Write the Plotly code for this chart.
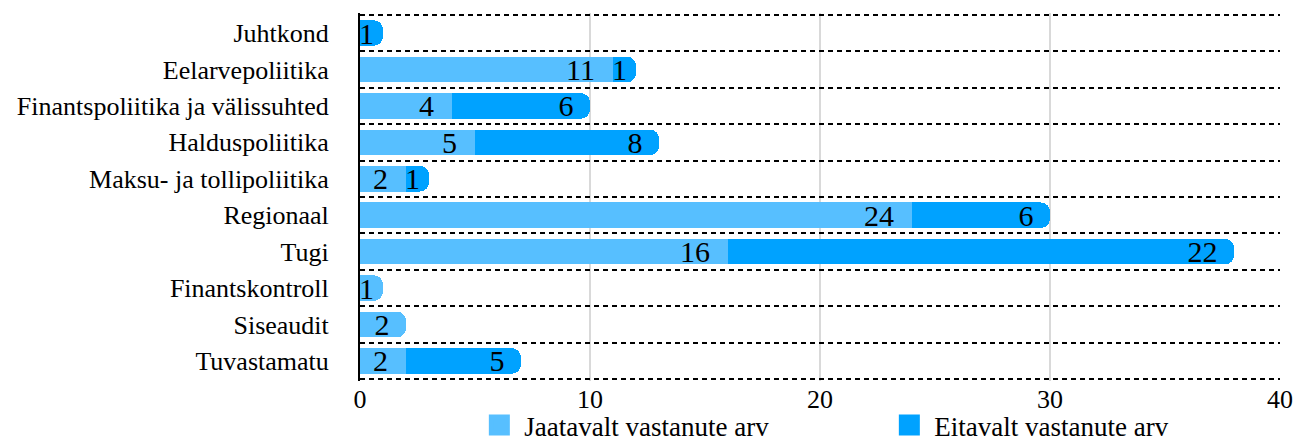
import plotly.graph_objects as go

# Departments (top to bottom) and answer counts
categories = [
    "Juhtkond",
    "Eelarvepoliitika",
    "Finantspoliitika ja välissuhted",
    "Halduspoliitika",
    "Maksu- ja tollipoliitika",
    "Regionaal",
    "Tugi",
    "Finantskontroll",
    "Siseaudit",
    "Tuvastamatu",
]
jaatavalt = [None, 11, 4, 5, 2, 24, 16, 1, 2, 2]
eitavalt = [1, 1, 6, 8, 1, 6, 22, None, None, 5]

series_names = ["Jaatavalt vastanute arv", "Eitavalt vastanute arv"]
series_colors = ["#57BFFF", "#00A2FF"]

x_ticks = [0, 10, 20, 30, 40]

FONT = "Liberation Serif, Times New Roman, serif"
NBSP = "\u00a0"


def bar_labels(values, outer_flags):
    # numbers sit near the end of each segment; rounded (outer) ends already
    # pad the text, and one-unit segments get no extra padding
    out = []
    for v, outer in zip(values, outer_flags):
        if v is None:
            out.append("")
        elif v < 2:
            out.append(f"{v}")
        else:
            out.append(f"{v}" + NBSP * (1 if outer else 2))
    return out


outer_jaatavalt = [e is None for e in eitavalt]
outer_eitavalt = [True] * len(eitavalt)

fig = go.Figure()
for name, vals, outer, color in zip(
    series_names, [jaatavalt, eitavalt], [outer_jaatavalt, outer_eitavalt], series_colors
):
    fig.add_trace(
        go.Bar(
            y=categories,
            x=vals,
            orientation="h",
            name=name,
            marker=dict(color=color, line=dict(width=0)),
            text=bar_labels(vals, outer),
            textposition="inside",
            insidetextanchor="end",
            textangle=0,
            constraintext="none",
            insidetextfont=dict(family=FONT, size=30, color="black"),
            showlegend=False,
            hoverinfo="skip",
        )
    )
    # legend entries with larger square swatches
    fig.add_trace(
        go.Scatter(
            x=[None],
            y=[None],
            mode="markers",
            name=name,
            marker=dict(symbol="square", size=16, color=color,
                        line=dict(color=color, width=5)),
            showlegend=True,
        )
    )

n = len(categories)
fig.update_layout(
    width=1296,
    height=441,
    barmode="stack",
    bargap=0.3,
    barcornerradius=9,
    uniformtext=dict(minsize=30, mode="show"),
    plot_bgcolor="white",
    paper_bgcolor="white",
    margin=dict(l=360, r=16, t=13, b=60, autoexpand=False),
    font=dict(family=FONT, size=26, color="black"),
    legend=dict(
        orientation="h",
        traceorder="normal",
        xref="container",
        yref="container",
        x=0.366,
        xanchor="left",
        y=0.035,
        yanchor="middle",
        font=dict(family=FONT, size=27, color="black"),
        entrywidth=355,
        itemwidth=40,
        bgcolor="rgba(0,0,0,0)",
    ),
)

fig.update_xaxes(
    range=[0, 40],
    tickvals=x_ticks,
    showgrid=True,
    gridcolor="#D9D9D9",
    gridwidth=2,
    zeroline=False,
    showline=False,
    ticks="",
    ticklabelstandoff=0,
    automargin=False,
    tickfont=dict(family=FONT, size=26, color="black"),
    fixedrange=True,
)

fig.update_yaxes(
    range=[n - 0.45, -0.55],
    type="category",
    tickmode="array",
    tickvals=categories,
    ticktext=categories,
    tickson="boundaries",
    showgrid=True,
    gridcolor="black",
    gridwidth=2,
    griddash="5px,4px",
    showline=True,
    linecolor="black",
    linewidth=2,
    ticks="",
    ticklabelstandoff=24,
    automargin=False,
    tickfont=dict(family=FONT, size=26, color="black"),
    fixedrange=True,
)

fig.write_html("out.html")
